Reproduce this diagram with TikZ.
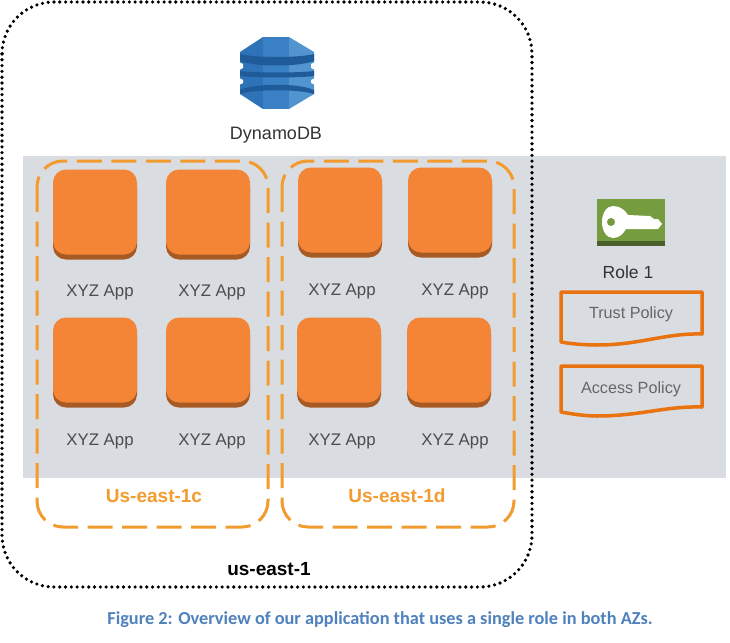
\documentclass[tikz,border=0pt]{standalone}
\usepackage{fontspec}
\setmainfont{Liberation Sans}
\newfontfamily\captionfont{Carlito}
\usepackage{xcolor}
\usetikzlibrary{shadows}
\usetikzlibrary{positioning}
\definecolor{bandgray}{HTML}{D9DCE1}
\definecolor{zoneorange}{HTML}{F29B2E}
\definecolor{apporange}{HTML}{F58536}
\definecolor{appshade}{HTML}{A85A25}
\definecolor{policyorange}{HTML}{E8730F}
\definecolor{keygreen}{HTML}{759C3E}
\definecolor{keydark}{HTML}{4B612C}
\definecolor{captionblue}{HTML}{4F81BD}
\definecolor{dbdark}{HTML}{205B99}
\definecolor{dbleft}{HTML}{2E73B8}
\definecolor{dbmid}{HTML}{3A80C4}
\definecolor{dbright}{HTML}{5294CF}

\begin{document}
\begin{tikzpicture}[
    x=1pt, y=-1pt,
    app/.style={rectangle, draw=none, fill=apporange, rounded corners=13pt,
               minimum width=84pt, minimum height=85pt, inner sep=0pt,
               general shadow={fill=appshade, shadow yshift=-5pt}},
    applabel/.style={font=\fontsize{16.8}{19}\selectfont, text=black!70, inner sep=0pt},
    zone/.style={draw=zoneorange, line width=3pt, rounded corners=26pt,
               dash pattern=on 25pt off 9.5pt},
    zonelabel/.style={font=\fontsize{19}{22}\selectfont\bfseries, text=zoneorange, inner sep=0pt},
    policy/.style={draw=policyorange, line width=3.5pt, line join=round},
    policylabel/.style={font=\fontsize{16.2}{19}\selectfont, text=black!60, inner sep=0pt}
]
\useasboundingbox (0,0) rectangle (730,642);

% Gray band
\fill[bandgray] (23,156) rectangle (726,478);

% Region
\draw[line width=3.6pt, line cap=round, dash pattern=on 0pt off 5.8pt, rounded corners=52pt]
    (2,2) rectangle (532,587);

% Availability zones
\draw[zone] (37,161) rectangle (268,527);
\draw[zone] (282,161) rectangle (514,527);

% DynamoDB icon
\fill[dbleft] (263,37) -- (240,52) -- (240,94) -- (263,109) -- cycle;
\fill[dbmid] (263,37) rectangle (289,109);
\fill[dbright] (289,37) -- (314,52) -- (314,94) -- (289,109) -- cycle;
\fill[dbdark] (240,54) .. controls (255,58) and (299,58) .. (314,54) -- (314,61)
    .. controls (299,67) and (255,67) .. (240,61) -- cycle;
\fill[dbdark] (240,71) .. controls (255,73) and (299,73) .. (314,71) -- (314,76)
    .. controls (299,78) and (255,78) .. (240,76) -- cycle;
\fill[dbdark] (240,90) .. controls (255,83) and (299,83) .. (314,90) -- (314,94)
    .. controls (299,89) and (255,89) .. (240,94) -- cycle;
% Notches at the icon edges
\fill[white] (239,62) -- (243,64) -- (243,68) -- (239,70) -- cycle;
\fill[white] (315,62) -- (311,64) -- (311,68) -- (315,70) -- cycle;
\fill[white] (239,78) -- (243,80) -- (243,83) -- (239,85) -- cycle;
\fill[white] (315,78) -- (311,80) -- (311,83) -- (315,85) -- cycle;
\node[font=\fontsize{18}{21}\selectfont, text=black!80, inner sep=0pt] (dynamo) at (276,135) {DynamoDB};

% Apps in us-east-1c
\node[app] (appa) at (95,212) {};
\node[app] (appb) at (208,212) {};
\node[app] (appc) at (95,360) {};
\node[app] (appd) at (208,360) {};
\node[applabel] (labela) at (100,292) {XYZ App};
\node[applabel] (labelb) at (212,292) {XYZ App};
\node[applabel] (labelc) at (100,441) {XYZ App};
\node[applabel] (labeld) at (212,441) {XYZ App};

% Apps in us-east-1d
\node[app] (appe) at (340,210) {};
\node[app] (appf) at (450,210) {};
\node[app] (appg) at (339,360) {};
\node[app] (apph) at (449,360) {};
\node[applabel] (labele) at (342,291) {XYZ App};
\node[applabel] (labelf) at (455,291) {XYZ App};
\node[applabel] (labelg) at (342,441) {XYZ App};
\node[applabel] (labelh) at (455,441) {XYZ App};

% Zone and region labels
\node[zonelabel] (zonec) at (154,496) {Us-east-1c};
\node[zonelabel] (zoned) at (397,496) {Us-east-1d};
\node[font=\fontsize{19}{22}\selectfont\bfseries, inner sep=0pt] (region) at (269,569) {us-east-1};

% Role key
\fill[keygreen] (597,199) rectangle (665,241);
\fill[keydark] (597,241) rectangle (665,246);
\fill[white] (613,206) .. controls (620,206) and (625,210) .. (628,215) -- (650,216)
    -- (654,219) -- (658,219) -- (662,224) -- (658,229) -- (626,229)
    .. controls (623,234) and (619,238) .. (613,238)
    .. controls (606,238) and (602,230) .. (602,222)
    .. controls (602,214) and (606,206) .. (613,206) -- cycle;
\fill[keygreen] (611,222) circle (4pt);
\node[font=\fontsize{17.5}{20}\selectfont, text=black!80, inner sep=0pt] (role) at (628,272) {Role 1};

% Policies
\draw[policy] (561,292) -- (702,292) -- (702,334) .. controls (665,333) and (640,345) .. (597,345)
    .. controls (585,345) and (572,344) .. (561,342) -- cycle;
\draw[policy] (561,366) -- (702,366) -- (702,407) .. controls (665,406) and (640,416) .. (597,416)
    .. controls (585,416) and (572,414) .. (561,412) -- cycle;
\node[policylabel] (trust) at (631,314) {Trust Policy};
\node[policylabel] (access) at (631,389) {Access Policy};

% Caption
\node[font=\captionfont\fontsize{18.3}{22}\selectfont\bfseries, text=captionblue, inner sep=0pt] (caption) at (380,620)
    {Figure 2: Overview of our application that uses a single role in both AZs.};

\end{tikzpicture}
\end{document}
